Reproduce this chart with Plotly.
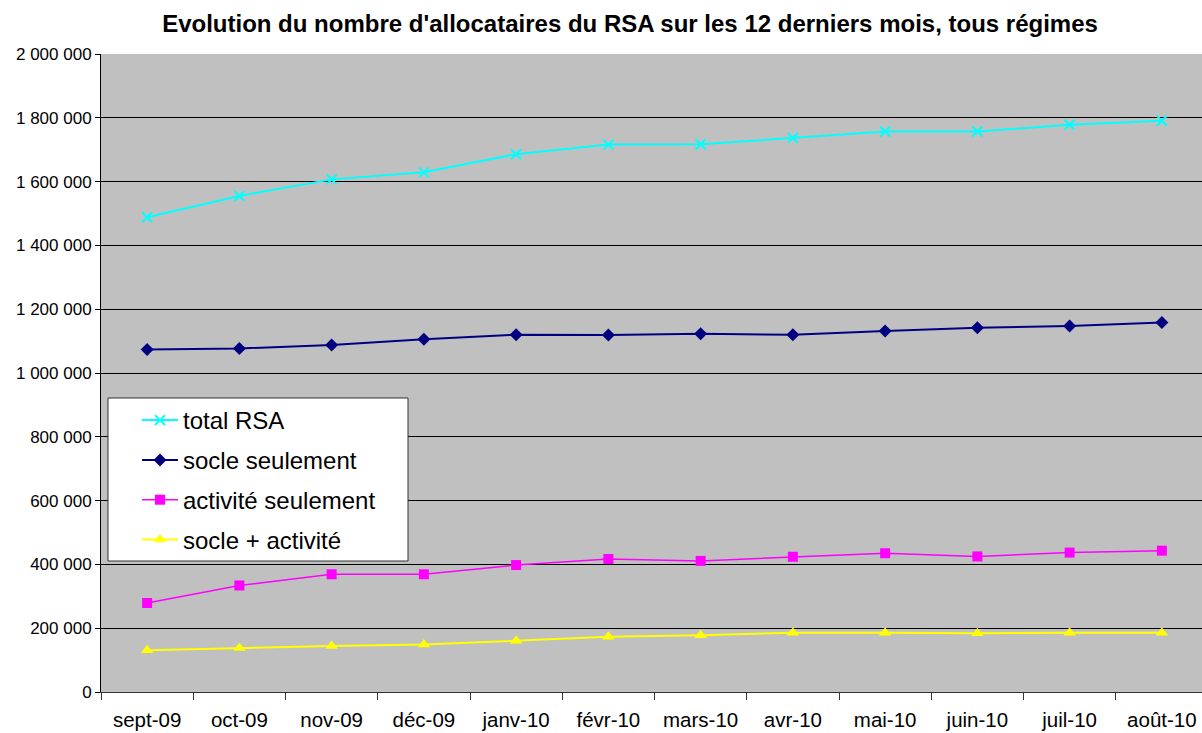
import plotly.graph_objects as go

months = ["sept-09", "oct-09", "nov-09", "déc-09", "janv-10", "févr-10",
          "mars-10", "avr-10", "mai-10", "juin-10", "juil-10", "août-10"]
total_rsa = [1488000, 1555000, 1607000, 1629000, 1686000, 1716000,
             1717000, 1737000, 1757000, 1757000, 1778000, 1791000]
socle_seul = [1074000, 1077000, 1088000, 1106000, 1120000, 1119000,
              1123000, 1120000, 1132000, 1142000, 1147000, 1158000]
activite_seul = [279000, 334000, 369000, 369000, 398000, 417000,
                 411000, 424000, 435000, 425000, 437000, 443000]
socle_activite = [131000, 138000, 144000, 149000, 161000, 173000,
                  178000, 186000, 186000, 184000, 186000, 186000]
y_ticks = [0, 200000, 400000, 600000, 800000, 1000000, 1200000,
           1400000, 1600000, 1800000, 2000000]

W, H = 1202, 733
ML, MR, MT, MB = 101, 0, 54, 41
PW, PH = W - ML - MR, H - MT - MB

def px_x(p):
    return (p - ML) / PW

def px_y(p):
    return (H - MB - p) / PH

xs = list(range(len(months)))
FONT = "Liberation Sans, Arial, sans-serif"

series = [
    ("total RSA", total_rsa, "#00FFFF", "x-thin", 10, 2),
    ("socle seulement", socle_seul, "#000080", "diamond", 10, 2),
    ("activité seulement", activite_seul, "#FF00FF", "square", 10, 1.5),
    ("socle + activité", socle_activite, "#FFFF00", "triangle-up", 11, 2),
]

fig = go.Figure()
for i, (name, vals, col, sym, size, lw) in enumerate(series):
    mk = dict(symbol=sym, size=size, color=col)
    if sym == "x-thin":
        mk["line"] = dict(color=col, width=2)
    fig.add_trace(go.Scatter(
        x=xs, y=vals, name=name, mode="lines+markers",
        line=dict(color=col, width=lw), marker=mk,
        legendgroup=str(i), cliponaxis=False,
    ))

fig.add_shape(type="rect", xref="paper", yref="paper",
              x0=px_x(108), x1=px_x(408), y0=px_y(561), y1=px_y(398),
              fillcolor="white", line=dict(color="#333333", width=1),
              layer="above")

fig.update_layout(
    width=W, height=H,
    margin=dict(l=ML, r=MR, t=MT, b=MB),
    paper_bgcolor="white", plot_bgcolor="#C0C0C0",
    separators=", ",
    font=dict(family=FONT, color="black"),
    title=dict(text="<b>Evolution du nombre d'allocataires du RSA sur les 12 derniers mois, tous régimes</b>",
               font=dict(family=FONT, size=24, color="black"),
               x=630 / W, xanchor="center", xref="container",
               y=1 - 24 / H, yanchor="middle", yref="container"),
    showlegend=True,
    legend=dict(x=px_x(137), y=px_y(398), xanchor="left", yanchor="top",
                bgcolor="rgba(0,0,0,0)", borderwidth=0,
                font=dict(family=FONT, size=24, color="black"),
                tracegroupgap=5.6, itemwidth=36),
    xaxis=dict(range=[-0.5, 11.5 - 6 / 92.25], tickmode="array",
               tickvals=xs, ticktext=months,
               ticks="outside", ticklen=9, tickcolor="rgba(0,0,0,0)",
               tickfont=dict(family=FONT, size=20.5, color="black"),
               showgrid=False, zeroline=False,
               showline=True, linecolor="#333333", linewidth=1,
               minor=dict(tickmode="array",
                          tickvals=[i - 0.5 for i in range(len(months) + 1)],
                          ticks="outside", ticklen=7, tickcolor="#333333",
                          tickwidth=1, showgrid=False)),
    yaxis=dict(range=[0, 2000000], tickmode="array", tickvals=y_ticks,
               tickformat=",d", ticks="outside", ticklen=5,
               tickcolor="black", tickwidth=1,
               tickfont=dict(family=FONT, size=17, color="black"),
               showgrid=True, gridcolor="black", gridwidth=1,
               zeroline=False, showline=True, linecolor="black",
               linewidth=1),
)

fig.write_html(
    "out.html",
    config={"displayModeBar": False},
    post_script="document.body.style.margin='0';document.body.style.overflow='hidden';",
)
